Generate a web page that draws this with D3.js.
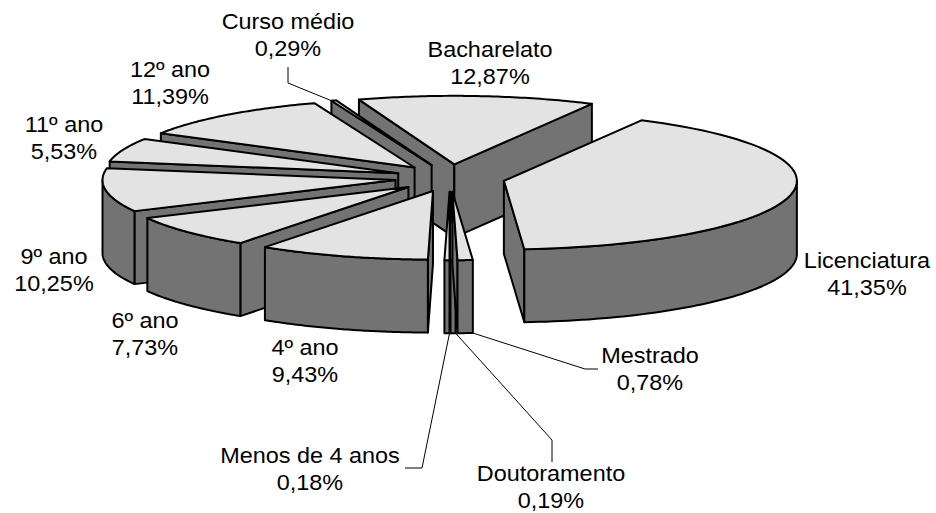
<!DOCTYPE html>
<html>
<head>
<meta charset="utf-8">
<script src="https://cdn.jsdelivr.net/npm/d3@7/dist/d3.min.js"></script>
<style>
html,body{margin:0;padding:0;background:#fff}
svg{display:block}
text{font-family:"Liberation Sans",Arial,sans-serif;font-size:21.5px;fill:#000;text-anchor:middle}
</style>
</head>
<body>
<svg id="chart" width="936" height="513"></svg>
<script>
// Data, clockwise from the Licenciatura slice
const categories = ["Licenciatura","Mestrado","Doutoramento","Menos de 4 anos","4º ano","6º ano","9º ano","11º ano","12º ano","Curso médio","Bacharelato"];
const shares = [41.35,0.78,0.19,0.18,9.43,7.73,10.25,5.53,11.39,0.29,12.87];
const shareLabels = ["41,35%","0,78%","0,19%","0,18%","9,43%","7,73%","10,25%","5,53%","11,39%","0,29%","12,87%"];
// Back-to-front painting order
const paintOrder = ["Bacharelato","Curso médio","12º ano","11º ano","9º ano","6º ano","Licenciatura","4º ano","Menos de 4 anos","Doutoramento","Mestrado"];

// Layout
const W = 936, H = 513;
const cx = 450, cy = 178, rx = 293, ry = 68.5, depth = 73, explodeX = 0.188, explodeY = 0.2, startDeg = 28;
const textStretch = 1.09, lineStep = 27;
const topFill = "#e3e3e3", wallFill = "#737373", ink = "#000";
const labelLayout = {
  "Licenciatura":    {x:867, y:268},
  "Mestrado":        {x:650, y:363},
  "Doutoramento":    {x:551, y:481},
  "Menos de 4 anos": {x:310, y:463},
  "4º ano":          {x:305, y:355},
  "6º ano":          {x:145, y:328},
  "9º ano":          {x:54,  y:264},
  "11º ano":         {x:64,  y:132},
  "12º ano":         {x:170, y:77},
  "Curso médio":     {x:288, y:29},
  "Bacharelato":     {x:490, y:57}
};
const leaderElbows = {
  "Mestrado":        [[585,369],[598,369]],
  "Doutoramento":    [[552,440],[552,462]],
  "Menos de 4 anos": [[422,468],[405,468]],
  "Curso médio":     [[288,83],[288,67]]
};

// The chart program snaps every slice to whole degrees, at least one each;
// the leftover degrees are settled on three slices so the sweep totals 360.
const snapTrim = {"Licenciatura": -1, "12º ano": -1, "Bacharelato": 1};
const sweeps = shares.map((v, i) => Math.max(1, Math.round(v * 3.6)) + (snapTrim[categories[i]] || 0));

const rad = d => d * Math.PI / 180;
const pie = d3.pie().sort(null).value(d => d).startAngle(rad(startDeg)).endAngle(rad(startDeg + 360));
const arcs = pie(sweeps);

const px = d3.scaleLinear().domain([-1, 1]).range([cx - rx, cx + rx]);
const py = d3.scaleLinear().domain([-1, 1]).range([cy - ry, cy + ry]);
const ux = d3.scaleLinear().domain([0, 1]).range([0, rx]);
const uy = d3.scaleLinear().domain([0, 1]).range([0, ry]);

const slices = categories.map((name, i) => {
  const a0 = arcs[i].startAngle, a1 = arcs[i].endAngle, m = (a0 + a1) / 2;
  const ax = px(explodeX * Math.sin(m)), ay = py(-explodeY * Math.cos(m));
  return {name, label: shareLabels[i], a0, a1, ax, ay,
    rim: a => [ax + ux(Math.sin(a)), ay - uy(Math.cos(a))]};
});
const bySlice = new Map(slices.map(s => [s.name, s]));

const line = d3.line();
const closed = pts => line(pts) + "Z";
const samples = (a, b) => d3.range(0, 61).map(k => a + (b - a) * k / 60);

const svg = d3.select("#chart");
const g = svg.append("g");

paintOrder.map(n => bySlice.get(n)).forEach(s => {
  const group = g.append("g");
  const style = (sel, fill) => sel.attr("fill", fill).attr("stroke", ink).attr("stroke-width", 2).attr("stroke-linejoin", "round");
  // cut faces, only those turned towards the viewer
  const faces = [];
  if (Math.sin(s.a0) < 0) faces.push(s.a0);
  if (Math.sin(s.a1) > 0) faces.push(s.a1);
  faces.forEach(a => {
    const [rx0, ry0] = s.rim(a);
    style(group.append("path").attr("d", closed([[s.ax, s.ay],[rx0, ry0],[rx0, ry0 + depth],[s.ax, s.ay + depth]])), wallFill);
  });
  // outer wall, the front-facing part of the rim only
  const lo = Math.max(s.a0, rad(90)), hi = Math.min(s.a1, rad(270));
  if (hi > lo) {
    const up = samples(lo, hi).map(s.rim);
    const down = up.slice().reverse().map(([x, y]) => [x, y + depth]);
    style(group.append("path").attr("d", closed(up.concat(down))), wallFill);
  }
  // top
  const top = [[s.ax, s.ay]].concat(samples(s.a0, s.a1).map(s.rim));
  style(group.append("path").attr("d", closed(top)), topFill);
});

// Leader lines
Object.entries(leaderElbows).forEach(([name, elbows]) => {
  const s = bySlice.get(name);
  const [x, y] = s.rim(s.a0);
  const front = Math.cos(s.a0) < 0;
  const pts = [[x, y + (front ? depth : 0)]].concat(elbows);
  g.append("path").attr("d", line(pts)).attr("fill", "none").attr("stroke", ink).attr("stroke-width", 1);
});

// Labels
slices.forEach(s => {
  const p = labelLayout[s.name];
  const t = svg.append("text").attr("transform", `translate(${p.x},${p.y}) scale(${textStretch},1)`);
  t.append("tspan").attr("x", 0).text(s.name);
  t.append("tspan").attr("x", 0).attr("dy", lineStep).text(s.label);
});
</script>
</body>
</html>
